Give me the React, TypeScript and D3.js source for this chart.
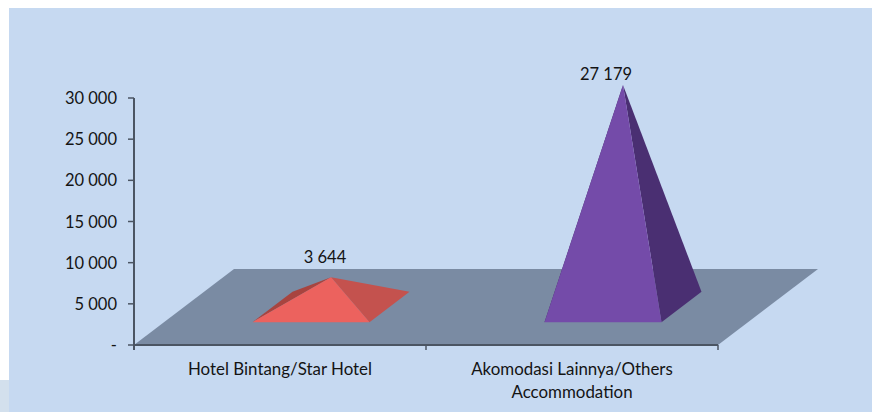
import React from "react";
import * as d3 from "d3";

const categories = [["Hotel Bintang/Star Hotel"], ["Akomodasi Lainnya/Others", "Accommodation"]];
const values = [3644, 27179];
const valueLabels = ["3 644", "27 179"];
const tickValues = [0, 5000, 10000, 15000, 20000, 25000, 30000];
const tickLabels = ["-", "5 000", "10 000", "15 000", "20 000", "25 000", "30 000"];
const frontColors = ["#ec625e", "#744ba9"];
const sideColors = ["#c4524e", "#4a2f72"];
const backColors = ["#a8443f", "#3f2862"];

const WIDTH = 872;
const HEIGHT = 412;
const FONT = "Lato, 'Open Sans', sans-serif";
const FONT_SIZE = 16.5;
const CATEGORY_FONT_SIZE = 16.9;
const TEXT = "#141414";
const AXIS = "#4b5563";

// Oblique projection of the chart floor
const DEPTH_X = 100;
const DEPTH_Y = 76;
const BASE_HALF_WIDTH = 58.5;
const BASE_DEPTH_FRACTION = 0.2;
const LABEL_SHIFT = [
  { dx: -6, dy: -14 },
  { dx: -17, dy: -5 },
];

export default function App() {
  const x = d3
    .scaleBand<number>()
    .domain(values.map((_, i) => i))
    .range([134, 718]);
  const y = d3.scaleLinear().domain([0, 30000]).range([345, 98]);
  // Vertical extent of a pyramid is slightly foreshortened in the oblique view
  const rise = d3.scaleLinear().domain([0, 30000]).range([0, 245]);

  const x0 = x.range()[0];
  const x1 = x.range()[1];
  const y0 = y(0);
  const line = d3.line();

  const floor = line([
    [x0, y0],
    [x1, y0],
    [x1 + DEPTH_X, y0 - DEPTH_Y],
    [x0 + DEPTH_X, y0 - DEPTH_Y],
  ]) as string;

  const pyramids = values.map((v, i) => {
    const cx = (x(i) as number) + x.bandwidth() / 2 + DEPTH_X / 2 + 1;
    const cy = y0 - DEPTH_Y / 2;
    const ox = DEPTH_X * BASE_DEPTH_FRACTION;
    const oy = DEPTH_Y * BASE_DEPTH_FRACTION;
    const apex: [number, number] = [cx, cy - rise(v)];
    const frontLeft: [number, number] = [cx - BASE_HALF_WIDTH - ox, cy + oy];
    const frontRight: [number, number] = [cx + BASE_HALF_WIDTH - ox, cy + oy];
    const backRight: [number, number] = [cx + BASE_HALF_WIDTH + ox, cy - oy];
    const backLeft: [number, number] = [cx - BASE_HALF_WIDTH + ox, cy - oy];
    return { apex, frontLeft, frontRight, backRight, backLeft };
  });

  return (
    <svg
      width={WIDTH}
      height={HEIGHT}
      style={{ position: "absolute", left: 0, top: 0, display: "block" }}
      fontFamily={FONT}
    >
      <rect x={0} y={0} width={WIDTH} height={HEIGHT} fill="#ffffff" />
      <rect x={0} y={380} width={9} height={32} fill="#d3e0ed" />
      <rect x={9} y={8} width={WIDTH - 9} height={HEIGHT - 8} fill="#c6d9f1" />

      <path d={floor} fill="#7a8ba3" />

      {pyramids.map((p, i) => (
        <g key={i}>
          <path d={line([p.frontLeft, p.backLeft, p.apex]) as string} fill={backColors[i]} />
          <path d={line([p.frontRight, p.backRight, p.apex]) as string} fill={sideColors[i]} />
          <path d={line([p.frontLeft, p.frontRight, p.apex]) as string} fill={frontColors[i]} />
          <text
            x={p.apex[0] + LABEL_SHIFT[i].dx}
            y={p.apex[1] + LABEL_SHIFT[i].dy}
            textAnchor="middle"
            fontSize={FONT_SIZE}
            fill={TEXT}
          >
            {valueLabels[i]}
          </text>
        </g>
      ))}

      {/* Value axis */}
      <line x1={x0} x2={x0} y1={y(30000)} y2={y0 + 5} stroke={AXIS} strokeWidth={2} />
      {tickValues.map((t, i) => (
        <g key={t}>
          <line x1={x0 - 6} x2={x0} y1={y(t)} y2={y(t)} stroke={AXIS} strokeWidth={1.5} />
          <text x={x0 - 17} y={y(t) + 6} textAnchor="end" fontSize={FONT_SIZE} fill={TEXT}>
            {tickLabels[i]}
          </text>
        </g>
      ))}

      {/* Category axis */}
      <line x1={x0} x2={x1} y1={y0} y2={y0} stroke={AXIS} strokeWidth={2} />
      {[0, 1, 2].map((i) => {
        const tx = x0 + i * x.bandwidth();
        return <line key={i} x1={tx} x2={tx} y1={y0} y2={y0 + 5} stroke={AXIS} strokeWidth={1.5} />;
      })}
      {categories.map((lines, i) =>
        lines.map((label, j) => (
          <text
            key={label}
            x={(x(i) as number) + x.bandwidth() / 2}
            y={375 + j * 23}
            textAnchor="middle"
            fontSize={CATEGORY_FONT_SIZE}
            fill={TEXT}
          >
            {label}
          </text>
        ))
      )}
    </svg>
  );
}
